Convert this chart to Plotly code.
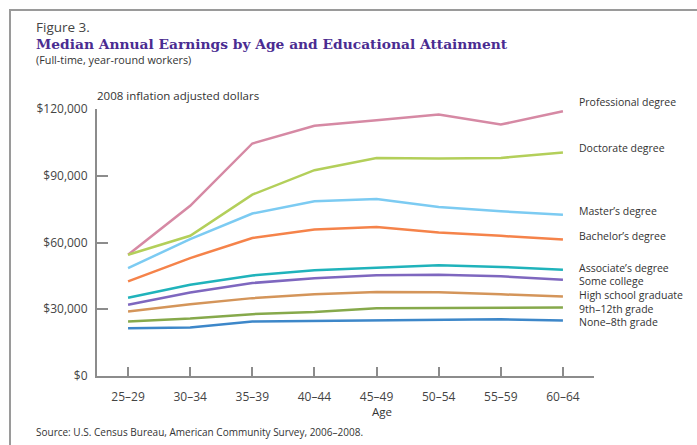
import plotly.graph_objects as go

ages = ["25–29", "30–34", "35–39", "40–44", "45–49", "50–54", "55–59", "60–64"]

professional = [54500, 76500, 104500, 112500, 115000, 117500, 113000, 119000]
doctorate = [54500, 63000, 81500, 92500, 98000, 97800, 98000, 100500]
masters = [48500, 61500, 73000, 78500, 79500, 76000, 74000, 72500]
bachelors = [42500, 53000, 62000, 65800, 67000, 64500, 63000, 61300]
associates = [35200, 41000, 45200, 47500, 48600, 49800, 49000, 47800]
some_college = [32000, 37500, 41800, 43900, 45300, 45500, 44800, 43300]
high_school = [29000, 32200, 35000, 36700, 37800, 37600, 36700, 35700]
ninth_twelfth = [24500, 25800, 27800, 28800, 30500, 30700, 30800, 30800]
none_eighth = [21500, 21800, 24500, 24700, 25000, 25000, 25500, 25000]

series_names = ["Professional degree", "Doctorate degree", "Master’s degree", "Bachelor’s degree",
                "Associate’s degree", "Some college", "High school graduate",
                "9th–12th grade", "None–8th grade"]
series_values = [professional, doctorate, masters, bachelors, associates,
                 some_college, high_school, ninth_twelfth, none_eighth]
series_colors = ["#d689a4", "#b3cf5a", "#7ccbf2", "#f5834a", "#20b3bb",
                 "#7e67bf", "#d4955a", "#86a94b", "#3d87c9"]
label_y = [102, 148, 211, 236, 268, 281, 295, 309, 322]

W, H = 697, 445
L, R, T, B = 97, 103, 109, 69
pw, ph = W - L - R, H - T - B


def px(x):
    return (x - L) / pw


def py(y):
    return (H - B - y) / ph


fig = go.Figure()
for name, vals, col in zip(series_names, series_values, series_colors):
    fig.add_trace(go.Scatter(x=ages, y=vals, mode="lines", name=name,
                             line=dict(color=col, width=2.5), showlegend=False))

ann = []
sans = "Open Sans, Lato, sans-serif"
for name, yy in zip(series_names, label_y):
    ann.append(dict(text=name, x=px(577), y=py(yy), xref="paper", yref="paper",
                    xanchor="left", yanchor="middle", showarrow=False,
                    font=dict(family=sans, size=10.5, color="#333333")))

ann += [
    dict(text="Figure 3.", x=px(34), y=py(27), xref="paper", yref="paper", xanchor="left",
         yanchor="middle", showarrow=False, font=dict(family=sans, size=13.5, color="#444444")),
    dict(text="<b>Median Annual Earnings by Age and Educational Attainment</b>", x=px(34), y=py(44),
         xref="paper", yref="paper", xanchor="left", yanchor="middle", showarrow=False,
         font=dict(family="DejaVu Serif, serif", size=13.8, color="#4a2c91")),
    dict(text="(Full-time, year-round workers)", x=px(34), y=py(59), xref="paper", yref="paper",
         xanchor="left", yanchor="middle", showarrow=False,
         font=dict(family=sans, size=10.8, color="#333333")),
    dict(text="2008 inflation adjusted dollars", x=px(95), y=py(95), xref="paper", yref="paper",
         xanchor="left", yanchor="middle", showarrow=False,
         font=dict(family=sans, size=11.5, color="#333333")),
    dict(text="Age", x=px(382), y=py(411), xref="paper", yref="paper", xanchor="center",
         yanchor="middle", showarrow=False, font=dict(family=sans, size=11.5, color="#333333")),
    dict(text="Source: U.S. Census Bureau, American Community Survey, 2006–2008.", x=px(34), y=py(432),
         xref="paper", yref="paper", xanchor="left", yanchor="middle", showarrow=False,
         font=dict(family=sans, size=10, color="#333333")),
]

fig.update_layout(
    width=W, height=H,
    margin=dict(l=L, r=R, t=T, b=B),
    paper_bgcolor="white", plot_bgcolor="white",
    annotations=ann,
    shapes=[dict(type="rect", xref="paper", yref="paper", x0=px(10), x1=px(720),
                 y0=py(470), y1=py(10), line=dict(color="#9a9a9a", width=2), layer="below")],
    xaxis=dict(range=[-0.5, 7.5], showgrid=False, zeroline=False, showline=True,
               linecolor="#8c8c8c", linewidth=2, ticks="inside", ticklen=9, tickwidth=2,
               tickcolor="#8c8c8c", tickfont=dict(family=sans, size=12, color="#444444"),
               ticklabelstandoff=9),
    yaxis=dict(range=[0, 120000], tickvals=[0, 30000, 60000, 90000, 120000],
               ticktext=["$0", "$30,000", "$60,000", "$90,000", "$120,000"],
               showgrid=False, zeroline=False, showline=True, linecolor="#8c8c8c", linewidth=2,
               ticks="inside", ticklen=11, tickwidth=2, tickcolor="#8c8c8c",
               tickfont=dict(family=sans, size=12, color="#444444"), ticklabelstandoff=5),
)

fig.write_html("out.html", config={"displayModeBar": False},
               post_script="document.body.style.margin='0px';")
